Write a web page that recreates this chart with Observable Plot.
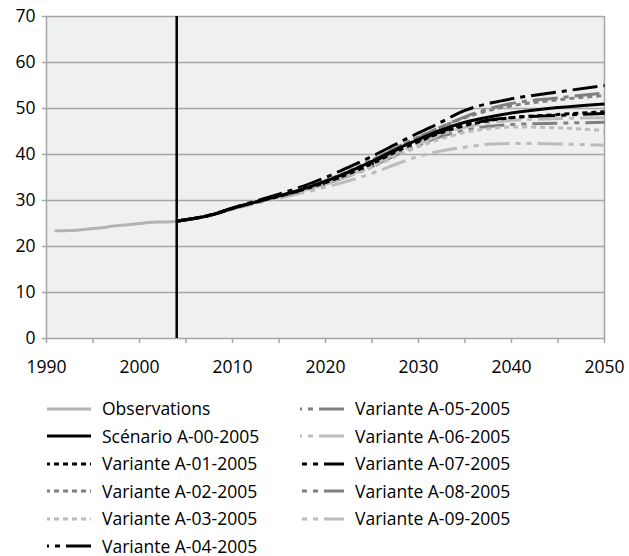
<!DOCTYPE html>
<html><head><meta charset="utf-8">
<script src="https://cdn.jsdelivr.net/npm/d3@7"></script>
<script src="https://cdn.jsdelivr.net/npm/@observablehq/plot@0.6"></script>
<style>
body{margin:0;background:#fff;font-family:"Open Sans",sans-serif;}
#chart{width:629px;}
.legend{display:grid;grid-template-columns:253px 300px;grid-auto-flow:column;grid-template-rows:repeat(6,27.5px);margin-left:47px;margin-top:15px;font-size:17.5px;line-height:1;color:#000}
.item{display:flex;align-items:center;white-space:nowrap;height:27.5px}
.item svg{margin-right:11px;flex:none}
</style></head><body><div id="chart"></div><script>
const obsYears = [1991,1992,1993,1994,1995,1996,1997,1998,1999,2000,2001,2002,2003,2004];
const obsValues = [23.4,23.45,23.5,23.7,23.9,24.1,24.4,24.6,24.8,25.0,25.2,25.3,25.35,25.5];
const projYears = [2004,2005,2008,2010,2012,2015,2018,2020,2022,2025,2028,2030,2032,2035,2038,2040,2045,2050];
const A00 = [25.5,25.8,27.0,28.3,29.4,31.0,32.8,34.2,35.8,38.5,41.5,43.3,45.0,47.0,48.3,49.0,50.2,51.0];
const A01 = [25.5,25.8,27.0,28.3,29.4,30.9,32.6,33.9,35.4,38.0,41.0,42.8,44.4,46.3,47.5,48.0,48.7,49.3];
const A02 = [25.5,25.8,27.0,28.3,29.4,31.0,32.9,34.3,36.0,38.8,41.9,43.8,45.6,48.0,49.8,50.6,51.9,52.8];
const A03 = [25.5,25.8,27.0,28.2,29.3,30.8,32.3,33.5,34.9,37.2,40.0,41.7,43.1,44.8,45.7,46.0,45.8,45.2];
const A04 = [25.5,25.8,27.1,28.4,29.6,31.4,33.4,35.0,36.8,39.6,42.7,44.7,46.6,49.6,51.3,52.1,53.6,55.0];
const A05 = [25.5,25.8,27.0,28.3,29.4,31.0,32.8,34.1,35.8,38.6,41.8,43.7,45.6,48.2,50.2,51.1,52.3,53.4];
const A06 = [25.5,25.8,27.0,28.2,29.3,30.8,32.4,33.6,35.1,37.6,40.6,42.3,44.0,45.9,47.0,47.4,47.8,48.0];
const A07 = [25.5,25.8,27.0,28.3,29.4,30.9,32.6,33.9,35.4,38.0,41.1,42.9,44.6,46.4,47.6,48.0,48.5,48.9];
const A08 = [25.5,25.8,27.0,28.2,29.3,30.8,32.4,33.6,35.0,37.4,40.3,42.0,43.6,45.3,46.2,46.5,46.8,47.0];
const A09 = [25.5,25.8,26.9,28.1,29.1,30.5,31.9,32.9,34.0,35.9,38.2,39.6,40.6,41.6,42.3,42.4,42.3,42.0];
const seriesNames = ["Observations","Scénario A-00-2005","Variante A-01-2005","Variante A-02-2005","Variante A-03-2005","Variante A-04-2005","Variante A-05-2005","Variante A-06-2005","Variante A-07-2005","Variante A-08-2005","Variante A-09-2005"];
const yTicks = [0,10,20,30,40,50,60,70];
const xTicks = [1990,1995,2000,2005,2010,2015,2020,2025,2030,2035,2040,2045,2050];
const xLabels = [1990,2000,2010,2020,2030,2040,2050];
const markerYear = 2004;

const BLACK="#000000", DARK="#808080", LIGHT="#bcbcbc", OBS="#b3b3b3";
const DOT="5,4", LDD="25,6,5,6", LDDD="25,6,5,6,5,6";
const styles = [
  {color:OBS, dash:null, off:0},
  {color:BLACK, dash:null, off:0},
  {color:BLACK, dash:DOT, off:2},
  {color:DARK, dash:DOT, off:2},
  {color:LIGHT, dash:DOT, off:2},
  {color:BLACK, dash:LDD, off:23},
  {color:DARK, dash:LDD, off:23},
  {color:LIGHT, dash:LDD, off:23},
  {color:BLACK, dash:LDDD, off:29},
  {color:DARK, dash:LDDD, off:29},
  {color:LIGHT, dash:LDDD, off:29}
];
const proj = [A00,A01,A02,A03,A04,A05,A06,A07,A08,A09];
const obsData = obsYears.map((x,i)=>({x, y: obsValues[i]}));
const projData = proj.map(arr => projYears.map((x,i)=>({x, y: arr[i]})));

const lineMarks = [];
lineMarks.push(Plot.line(obsData, {x:"x", y:"y", stroke: OBS, strokeWidth: 3, curve: "monotone-x"}));
const drawOrder = [9,8,7,6,5,4,3,2,1,0];
for (const i of drawOrder) {
  const s = styles[i+1];
  const opts = {x:"x", y:"y", stroke: s.color, strokeWidth: 3, curve: "monotone-x", strokeLinecap: "butt"};
  if (s.dash) opts.strokeDasharray = s.dash;
  lineMarks.push(Plot.line(projData[i], opts));
}

const chart = Plot.plot({
  width: 629, height: 380,
  marginLeft: 46, marginRight: 25, marginTop: 16, marginBottom: 42,
  style: {fontFamily: "'Open Sans', sans-serif", fontSize: "17.5px", color: "#000", background: "transparent"},
  x: {domain: [1990, 2050]},
  y: {domain: [0, 70]},
  marks: [
    Plot.frame({fill: "#eff0f0", stroke: null}),
    Plot.ruleY(yTicks, {stroke: "#a6a6a6", strokeWidth: 1.5}),
    Plot.ruleX([2050], {stroke: "#a6a6a6", strokeWidth: 1.5}),
    Plot.ruleX([1990], {stroke: "#a6a6a6", strokeWidth: 1.5}),
    Plot.axisY({ticks: yTicks, tickSize: 4, tickPadding: 7, stroke: "#a6a6a6", strokeWidth: 1.5, fill: "#000", label: null}),
    Plot.axisX({ticks: xTicks, tickSize: 5, tickPadding: 17, stroke: "#a6a6a6", strokeWidth: 1.5, fill: "#000", label: null,
      tickFormat: d => xLabels.includes(d) ? String(d) : ""}),
    ...lineMarks,
    Plot.ruleX([markerYear], {stroke: "#000", strokeWidth: 2.5})
  ]
});
const root = document.getElementById("chart");
root.appendChild(chart);

const legend = d3.select(root).append("div").attr("class","legend");
seriesNames.forEach((name, i) => {
  const s = styles[i];
  const item = legend.append("div").attr("class","item");
  const svg = item.append("svg").attr("width", 44).attr("height", 10);
  const ln = svg.append("line").attr("x1",0).attr("x2",44).attr("y1",5).attr("y2",5)
    .attr("stroke", s.color).attr("stroke-width", 3);
  if (s.dash) ln.attr("stroke-dasharray", s.dash).attr("stroke-dashoffset", s.off);
  item.append("span").text(name);
});
</script></body></html>
